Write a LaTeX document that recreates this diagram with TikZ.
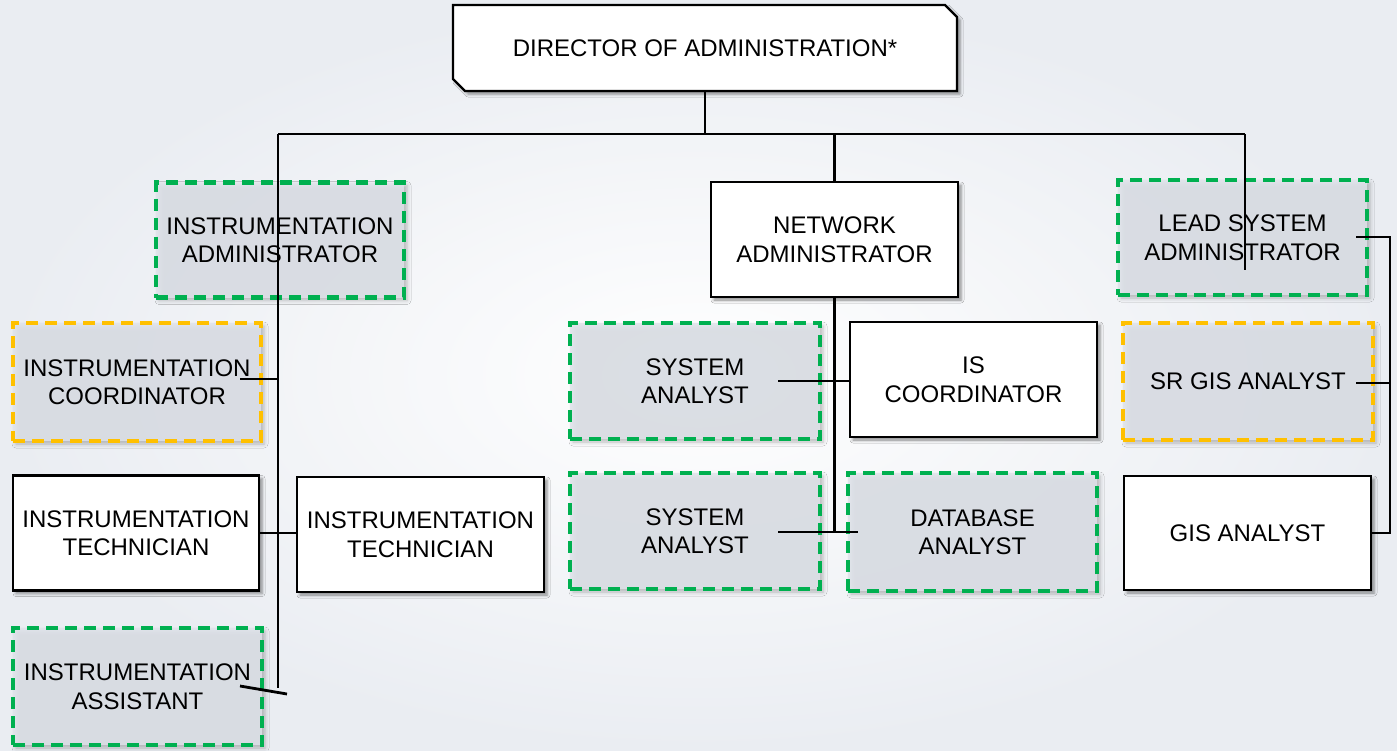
\documentclass[tikz,border=0pt]{standalone}
\usepackage{fontspec}
\setmainfont{Liberation Sans}
\usetikzlibrary{shapes.misc,shadows.blur}
\definecolor{roleGreen}{HTML}{00B050}
\definecolor{roleYellow}{HTML}{FFC000}
\definecolor{paneFill}{HTML}{E0E4EB}
\definecolor{bgLight}{HTML}{FFFFFF}
\definecolor{bgDeep}{HTML}{EAEDF2}
\tikzset{
  role/.style={rectangle, inner sep=0pt, align=center,
    font=\fontsize{24}{28.5}\selectfont, text=black},
  solidrole/.style={role, draw=black, line width=2.4pt, fill=white,
    blur shadow={shadow xshift=3pt, shadow yshift=-3pt,
                 shadow blur radius=3pt, shadow opacity=45}},
  vacant/.style={role, line width=4.6pt, dash pattern=on 12pt off 7pt,
    fill=paneFill, fill opacity=0.85, text opacity=1,
    blur shadow={shadow xshift=3pt, shadow yshift=-3pt,
                 shadow blur radius=4pt, shadow opacity=30}},
  greenrole/.style={vacant, draw=roleGreen},
  yellowrole/.style={vacant, draw=roleYellow},
  link/.style={draw=black, line width=2.8pt}
}
\begin{document}
\begin{tikzpicture}[x=1pt,y=-1pt]
% backdrop
\useasboundingbox (0,0) rectangle (1397,750);
\shade[inner color=bgLight, outer color=bgDeep] (0,0) rectangle (1397,750);

% top of the chart
\node[solidrole, chamfered rectangle, chamfered rectangle corners={north east,south west},
      chamfered rectangle xsep=16pt, minimum width=504pt, minimum height=86pt]
      (dir) at (705,48) {DIRECTOR OF ADMINISTRATION*};

% left branch
\node[greenrole, minimum width=248pt, minimum height=115pt] (instadm) at (280,240)
  {INSTRUMENTATION\\ADMINISTRATOR};
\node[yellowrole, minimum width=248pt, minimum height=118pt] (instcoord) at (137,382)
  {INSTRUMENTATION\\COORDINATOR};
\node[solidrole, minimum width=246pt, minimum height=115pt] (techL) at (136,533)
  {INSTRUMENTATION\\TECHNICIAN};
\node[solidrole, minimum width=247pt, minimum height=115pt] (techR) at (420.5,534.5)
  {INSTRUMENTATION\\TECHNICIAN};
\node[greenrole, minimum width=249pt, minimum height=117pt] (instasst) at (137.5,686.5)
  {INSTRUMENTATION\\ASSISTANT};

% middle branch
\node[solidrole, minimum width=247pt, minimum height=115pt] (netadm) at (834.5,239.5)
  {NETWORK\\ADMINISTRATOR};
\node[greenrole, minimum width=250pt, minimum height=116pt] (sysan1) at (695,381)
  {SYSTEM\\ANALYST};
\node[solidrole, minimum width=247pt, minimum height=115pt] (iscoord) at (973.5,379.5)
  {IS\\COORDINATOR};
\node[greenrole, minimum width=250pt, minimum height=116pt] (sysan2) at (695,531)
  {SYSTEM\\ANALYST};
\node[greenrole, minimum width=249pt, minimum height=118pt] (dbanal) at (972.5,532)
  {DATABASE\\ANALYST};

% right branch
\node[greenrole, minimum width=249pt, minimum height=115pt] (leadsys) at (1242.5,237.5)
  {LEAD SYSTEM\\ADMINISTRATOR};
\node[yellowrole, minimum width=250pt, minimum height=117pt] (srgis) at (1248,381.5)
  {SR GIS ANALYST};
\node[solidrole, minimum width=247pt, minimum height=114pt] (gis) at (1247.5,533)
  {GIS ANALYST};

% junction points
\coordinate (busL) at (278,134);
\coordinate (busR) at (1245,134);
\coordinate (trunkL) at (278,688);
\coordinate (coordTap) at (240,379);
\coordinate (asstTap) at (240,686);
\coordinate (asstEnd) at (287,694);
\coordinate (saTap1) at (778,381);
\coordinate (saTap2) at (778,532);
\coordinate (dbTap) at (858,532);
\coordinate (leadEnd) at (1245,270);
\coordinate (leadTap) at (1356,237);
\coordinate (srTap) at (1356,383);
\coordinate (railR) at (1390,237);

% connectors
\draw[link] (dir.south) -- (dir.south |- busL);
\draw[link] (busL) -- (busR);
\draw[link] (busL) -- (trunkL);
\draw[link] (coordTap) -- (coordTap -| busL);
\draw[link] (techL.east) -- (techL.east -| techR.west);
\draw[link] (asstTap) -- (asstEnd);
\draw[link] (netadm.north |- busL) -- (netadm.north);
\draw[link] (netadm.south) -- (netadm.south |- dbTap);
\draw[link] (saTap1) -- (saTap1 -| iscoord.west);
\draw[link] (saTap2) -- (dbTap);
\draw[link] (busR) -- (leadEnd);
\draw[link] (leadTap) -- (railR) -- (railR |- gis.east) -- (gis.east);
\draw[link] (srTap) -- (srTap -| railR);
\end{tikzpicture}
\end{document}
